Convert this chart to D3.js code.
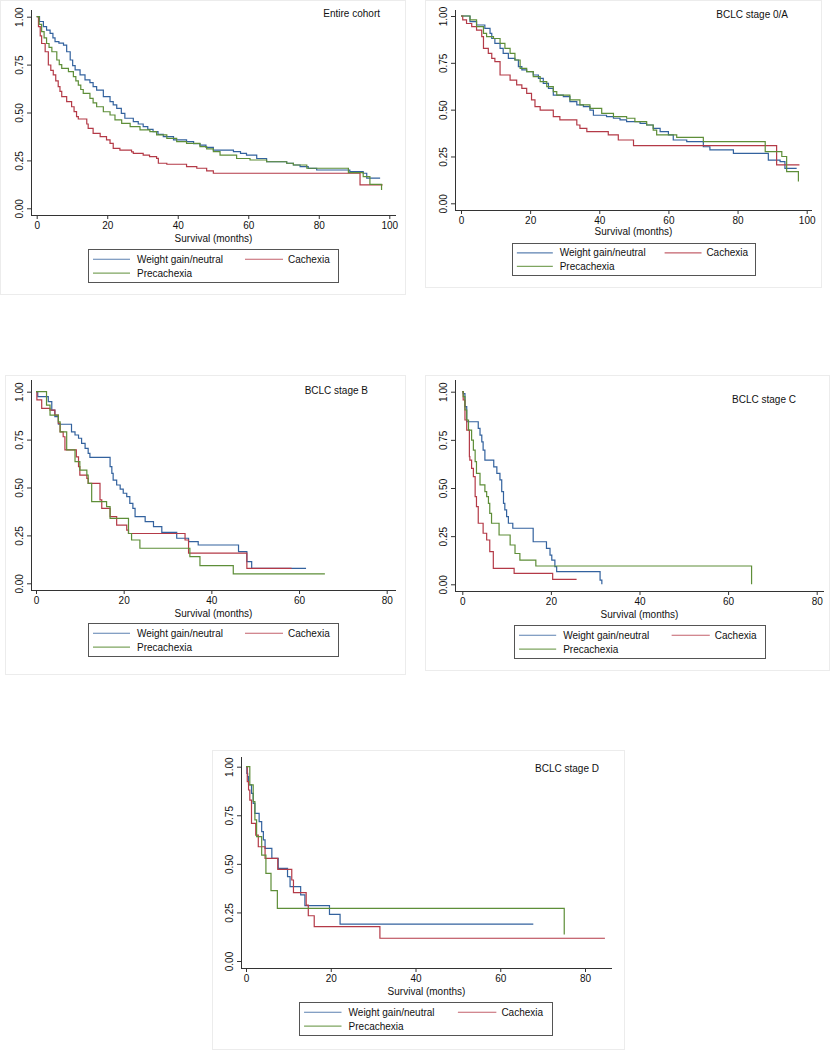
<!DOCTYPE html>
<html>
<head>
<meta charset="utf-8">
<script src="https://cdn.jsdelivr.net/npm/d3@7"></script>
<style>
  html, body { margin: 0; padding: 0; background: #fff; }
  svg { display: block; }
  text { font-family: "Liberation Sans", Arial, Helvetica, sans-serif; fill: #111; }
</style>
</head>
<body>
<svg id="chart" width="835" height="1050"></svg>
<script>
// ---------- DATA (time in months, survival probability) ----------
const seriesNames = ["Weight gain/neutral", "Cachexia", "Precachexia"];
const yTicks = [0, 0.25, 0.5, 0.75, 1];
const xTicks100 = [0, 20, 40, 60, 80, 100];
const xTicks80 = [0, 20, 40, 60, 80];
const panelTitles = ["Entire cohort", "BCLC stage 0/A", "BCLC stage B", "BCLC stage C", "BCLC stage D"];

// Entire cohort
const entireWeight = [[0,1],[0.8,0.975],[1.9,0.948],[2.8,0.93],[3.8,0.913],[4.6,0.89],[5.2,0.87],[6.3,0.862],[7.6,0.852],[8.5,0.817],[9.5,0.774],[10.2,0.745],[10.9,0.722],[12.3,0.696],[13.7,0.67],[15.1,0.656],[16,0.635],[17,0.617],[18.9,0.583],[20.8,0.557],[21.7,0.54],[22.7,0.522],[24,0.495],[25,0.47],[27.4,0.452],[28.8,0.44],[30.2,0.426],[31.5,0.412],[33,0.4],[34.4,0.386],[35.9,0.374],[38.8,0.357],[42.5,0.348],[44.5,0.338],[46.3,0.33],[48,0.318],[50.1,0.304],[55.8,0.296],[57.8,0.287],[59.5,0.278],[62.4,0.26],[65.2,0.243],[70.9,0.235],[72.8,0.226],[74.7,0.217],[77,0.208],[79.4,0.2],[88.8,0.191],[92.6,0.183],[93.6,0.157],[97.4,0.157]];
const entireCachexia = [[0,1],[0.5,0.948],[1,0.9],[1.4,0.86],[2.4,0.817],[3.3,0.748],[4,0.72],[4.7,0.696],[5.4,0.665],[6.1,0.635],[6.6,0.61],[7.1,0.583],[8.5,0.557],[9.9,0.53],[10.6,0.505],[11.3,0.478],[11.8,0.466],[14.2,0.44],[14.6,0.417],[16,0.391],[18,0.374],[19.8,0.357],[20.8,0.339],[21.7,0.313],[23.6,0.304],[26.9,0.295],[27.4,0.287],[30.2,0.278],[32,0.27],[34,0.261],[34.5,0.235],[36.9,0.23],[42.5,0.217],[45.4,0.209],[48.2,0.195],[50.1,0.183],[91.7,0.122],[98.1,0.122]];
const entirePre = [[0,1],[0.7,0.96],[1.4,0.922],[2.1,0.89],[2.8,0.86],[3.5,0.84],[4.3,0.817],[5.7,0.774],[6.4,0.75],[7.1,0.73],[9,0.713],[10.4,0.687],[11.1,0.665],[11.8,0.643],[12.5,0.62],[13.2,0.6],[15.1,0.574],[16,0.55],[17,0.53],[18.9,0.504],[20.8,0.487],[22.2,0.461],[24.1,0.443],[26.5,0.426],[29.3,0.409],[32.1,0.4],[34,0.383],[36.9,0.365],[39.7,0.348],[42.5,0.339],[46.3,0.322],[48.2,0.31],[50.1,0.296],[52,0.278],[56.7,0.26],[60.5,0.252],[65.2,0.243],[70.9,0.235],[72.8,0.226],[76.6,0.209],[88.4,0.186],[92.6,0.165],[94.5,0.125],[97.8,0.096]];

// BCLC stage 0/A
const stageAWeight = [[0,1],[2.6,0.97],[4.5,0.952],[6.9,0.934],[8.4,0.907],[8.9,0.88],[9.8,0.854],[11.3,0.827],[12.2,0.8],[13.7,0.774],[15.6,0.765],[16.6,0.73],[17.6,0.712],[19,0.703],[20.9,0.685],[22.4,0.667],[23.8,0.64],[25.3,0.614],[26.7,0.578],[29.6,0.57],[31.5,0.543],[33.5,0.525],[35.4,0.516],[37.3,0.498],[38.3,0.47],[42.1,0.463],[44.1,0.454],[46,0.445],[47.9,0.436],[51.8,0.427],[53.7,0.418],[55.6,0.4],[57.6,0.383],[60,0.365],[61.4,0.338],[65.3,0.329],[70.1,0.302],[72,0.285],[78.8,0.267],[88.9,0.231],[92.3,0.222],[93.7,0.187],[97.1,0.187]];
const stageACachexia = [[0,1],[0.5,0.979],[1.6,0.96],[3.1,0.943],[4.5,0.925],[6,0.89],[6.5,0.827],[7.9,0.8],[8.9,0.774],[9.8,0.756],[11.3,0.685],[14.2,0.658],[16.1,0.632],[17.6,0.614],[19,0.587],[20.4,0.552],[21.4,0.516],[22.9,0.498],[26.7,0.463],[28.6,0.445],[33.5,0.418],[34.4,0.4],[36.4,0.383],[42.6,0.365],[45.5,0.338],[49.9,0.308],[91.3,0.205],[97.9,0.205]];
const stageAPre = [[0,1],[2.6,0.979],[4.5,0.943],[6.5,0.907],[7.4,0.89],[9.4,0.88],[11.3,0.854],[12.7,0.827],[14.2,0.8],[15.6,0.765],[17.1,0.72],[19,0.703],[20.9,0.676],[22.9,0.65],[24.8,0.623],[26.7,0.596],[27.7,0.578],[31.5,0.552],[34.4,0.525],[37.3,0.507],[40.7,0.48],[44.1,0.463],[47.9,0.454],[50.3,0.436],[53.7,0.418],[55.6,0.391],[56.6,0.365],[62.4,0.352],[70.1,0.329],[88,0.276],[92.8,0.25],[94.2,0.169],[97.6,0.116]];

// BCLC stage B
const stageBWeight = [[0,1],[0.4,0.974],[2.8,0.948],[3.6,0.904],[4.3,0.87],[5.1,0.83],[8.1,0.79],[8.9,0.774],[9.7,0.757],[10.4,0.73],[11.2,0.704],[11.9,0.678],[12.3,0.657],[16.9,0.609],[17.3,0.574],[17.6,0.539],[18.4,0.513],[19.2,0.492],[19.9,0.47],[20.7,0.452],[21.4,0.417],[22.1,0.391],[22.6,0.348],[24.9,0.322],[26.8,0.296],[28.7,0.266],[32.1,0.235],[34.8,0.217],[37,0.2],[46.2,0.165],[48.1,0.113],[49.2,0.078],[61.6,0.078]];
const stageBCachexia = [[0,1],[0.2,0.957],[1.3,0.913],[3.2,0.904],[4.3,0.878],[5.1,0.835],[5.5,0.79],[6.2,0.765],[6.6,0.696],[9.2,0.66],[9.7,0.609],[10,0.565],[11.6,0.548],[11.9,0.522],[14.6,0.435],[15,0.391],[16.9,0.348],[18.4,0.304],[20.7,0.278],[21.1,0.26],[34,0.226],[34.8,0.157],[48.1,0.078],[58.3,0.078]];
const stageBPre = [[0,1],[2.4,0.93],[3.2,0.878],[5.1,0.843],[5.5,0.79],[7,0.696],[8.9,0.635],[10,0.591],[11.6,0.565],[11.9,0.522],[12.7,0.426],[16.1,0.4],[16.9,0.339],[21.1,0.26],[21.8,0.226],[23.7,0.183],[35.1,0.139],[37.4,0.092],[45,0.049],[65.9,0.049]];

// BCLC stage C
const stageCWeight = [[0,1],[0.2,0.99],[0.6,0.922],[1,0.844],[3.6,0.81],[4,0.775],[4.4,0.74],[4.7,0.697],[5.1,0.645],[7.1,0.61],[7.8,0.576],[8.5,0.542],[8.9,0.481],[9.3,0.42],[9.6,0.386],[10,0.351],[10.4,0.317],[11.4,0.291],[16,0.221],[19,0.187],[19.8,0.152],[20.2,0.126],[20.9,0.092],[21.3,0.066],[31.1,0.022],[31.5,0]];
const stageCCachexia = [[0,1],[0.2,0.957],[0.6,0.853],[1,0.8],[1.6,0.663],[1.7,0.645],[2.1,0.602],[2.5,0.559],[2.9,0.455],[3.2,0.403],[3.6,0.317],[4.7,0.265],[5.5,0.23],[6.2,0.17],[7,0.083],[11.7,0.057],[20.4,0.026],[25.8,0.026]];
const stageCPre = [[0,1],[0.2,0.974],[0.6,0.905],[1,0.853],[1.4,0.8],[2.1,0.749],[2.5,0.697],[2.9,0.637],[3.2,0.576],[4,0.516],[5.1,0.481],[5.5,0.455],[5.9,0.42],[6.2,0.368],[6.6,0.317],[8.3,0.256],[10.8,0.204],[11.9,0.16],[13,0.126],[16.6,0.095],[65.3,0]];

// BCLC stage D
const stageDWeight = [[0,1],[0.2,0.966],[0.4,0.949],[0.6,0.906],[1.3,0.863],[1.7,0.811],[2.1,0.76],[3.1,0.717],[3.7,0.666],[4.1,0.623],[4.5,0.58],[6.1,0.528],[7.6,0.477],[9.8,0.434],[10.4,0.383],[12.9,0.34],[13.9,0.285],[19.7,0.24],[22.2,0.19],[67.8,0.19]];
const stageDCachexia = [[0,1],[0.3,0.923],[0.6,0.88],[0.9,0.828],[1.3,0.708],[2.3,0.648],[2.9,0.588],[4.5,0.528],[7.5,0.472],[10.8,0.417],[11.2,0.352],[14.2,0.288],[14.7,0.233],[16.1,0.177],[31.6,0.117],[84.7,0.117]];
const stageDPre = [[0,1],[0.9,0.906],[1.7,0.82],[2.1,0.726],[2.5,0.64],[3.7,0.545],[4.7,0.451],[5.9,0.362],[7.4,0.271],[75.1,0.137]];

// ---------- STYLE / LAYOUT ----------
const colors = ["#33629e", "#b43a47", "#5e8e38"];

const panels = [
  { title: panelTitles[0], series: [entireWeight, entireCachexia, entirePre], xMax: 100, xTicks: xTicks100,
    frame: [0, 0, 406, 295], axX: [31, 396], axY: [10, 215], x0: 36.7, x1: 389.3, y0: 208.3, y1: 16.7,
    titlePos: [380, 17], xTitleOff: 26.5, legend: [88, 249, 250, 33] },
  { title: panelTitles[1], series: [stageAWeight, stageACachexia, stageAPre], xMax: 100, xTicks: xTicks100,
    frame: [425, 0, 397, 288], axX: [455, 812], axY: [10, 210], x0: 461, x1: 806.7, y0: 203.3, y1: 16,
    titlePos: [788, 18], xTitleOff: 24.5, legend: [512, 243, 243, 32] },
  { title: panelTitles[2], series: [stageBWeight, stageBCachexia, stageBPre], xMax: 80, xTicks: xTicks80,
    frame: [5, 375, 401, 300], axX: [31, 396], axY: [380, 590], x0: 36, x1: 386.7, y0: 583.3, y1: 391.7,
    titlePos: [368, 394], xTitleOff: 26.5, legend: [88, 623, 250, 33] },
  { title: panelTitles[3], series: [stageCWeight, stageCCachexia, stageCPre], xMax: 80, xTicks: xTicks80,
    frame: [425, 375, 405, 296], axX: [455, 824], axY: [380, 591], x0: 462.3, x1: 816.7, y0: 584.3, y1: 391.7,
    titlePos: [796, 403], xTitleOff: 26.5, legend: [514, 625, 251, 33] },
  { title: panelTitles[4], series: [stageDWeight, stageDCachexia, stageDPre], xMax: 80, xTicks: xTicks80,
    frame: [212, 750, 413, 300], axX: [241, 612], axY: [757, 968], x0: 246, x1: 585, y0: 961, y1: 766.7,
    titlePos: [599, 772], xTitleOff: 26.5, legend: [299, 1002, 253, 33] }
];

const svg = d3.select("#chart");

panels.forEach(p => {
  const g = svg.append("g");
  // faint panel frame
  g.append("rect")
    .attr("x", p.frame[0] + 0.5).attr("y", p.frame[1] + 0.5)
    .attr("width", p.frame[2] - 1).attr("height", p.frame[3] - 1)
    .attr("fill", "#fff").attr("stroke", "#ececec").attr("stroke-width", 1);

  const x = d3.scaleLinear().domain([0, p.xMax]).range([p.x0, p.x1]);
  const y = d3.scaleLinear().domain([0, 1]).range([p.y0, p.y1]);

  // axes
  const xAxis = g.append("g").attr("transform", `translate(0,${p.axY[1]})`)
    .call(d3.axisBottom(x).tickValues(p.xTicks).tickSize(4).tickSizeOuter(0));
  xAxis.select(".domain").remove();
  xAxis.selectAll("line").attr("stroke", "#333");
  xAxis.selectAll("text").attr("font-size", 10).attr("font-family", "Liberation Sans, Arial, sans-serif").attr("fill", "#111");

  const yAxis = g.append("g").attr("transform", `translate(${p.axX[0]},0)`)
    .call(d3.axisLeft(y).tickValues(yTicks).tickFormat(d3.format(".2f")).tickSize(4).tickSizeOuter(0));
  yAxis.select(".domain").remove();
  yAxis.selectAll("line").attr("stroke", "#333");
  yAxis.selectAll("text")
    .attr("x", null).attr("dy", null)
    .attr("text-anchor", "middle")
    .attr("transform", "translate(-8.5,0) rotate(-90)")
    .attr("font-size", 10).attr("font-family", "Liberation Sans, Arial, sans-serif").attr("fill", "#111");

  g.append("line").attr("x1", p.axX[0]).attr("x2", p.axX[1]).attr("y1", p.axY[1] + 0.5).attr("y2", p.axY[1] + 0.5)
    .attr("stroke", "#333").attr("stroke-width", 1);
  g.append("line").attr("x1", p.axX[0] + 0.5).attr("x2", p.axX[0] + 0.5).attr("y1", p.axY[0]).attr("y2", p.axY[1] + 0.5)
    .attr("stroke", "#333").attr("stroke-width", 1);

  // x axis title
  g.append("text").attr("x", (p.axX[0] + p.axX[1]) / 2).attr("y", p.axY[1] + p.xTitleOff)
    .attr("text-anchor", "middle").attr("font-size", 10).text("Survival (months)");

  // panel title
  g.append("text").attr("x", p.titlePos[0]).attr("y", p.titlePos[1])
    .attr("text-anchor", "end").attr("font-size", 10).text(p.title);

  // curves
  const line = d3.line().x(d => x(d[0])).y(d => y(d[1])).curve(d3.curveStepAfter);
  p.series.forEach((s, i) => {
    g.append("path").datum(s).attr("d", line)
      .attr("fill", "none").attr("stroke", colors[i]).attr("stroke-width", 1.2);
  });

  // legend
  const [lx, ly, lw, lh] = p.legend;
  const lg = g.append("g");
  lg.append("rect").attr("x", lx + 0.5).attr("y", ly + 0.5).attr("width", lw).attr("height", lh)
    .attr("fill", "#fff").attr("stroke", "#555").attr("stroke-width", 1);
  const items = [
    { i: 0, col: 0, row: 0 },
    { i: 1, col: 1, row: 0 },
    { i: 2, col: 0, row: 1 }
  ];
  const row1 = ly + lh * 0.31, row2 = ly + lh * 0.73;
  items.forEach(it => {
    const yy = it.row === 0 ? row1 : row2;
    const ls = it.col === 0 ? lx + lw * 0.02 : lx + lw * 0.628;
    const le = it.col === 0 ? lx + lw * 0.168 : lx + lw * 0.78;
    const tx = it.col === 0 ? lx + lw * 0.196 : lx + lw * 0.8;
    lg.append("line").attr("x1", ls).attr("x2", le).attr("y1", yy).attr("y2", yy)
      .attr("stroke", colors[it.i]).attr("stroke-width", 1.2).attr("stroke-opacity", 0.8);
    lg.append("text").attr("x", tx).attr("y", yy + 3.5).attr("font-size", 10).text(seriesNames[it.i]);
  });
});
</script>
</body>
</html>
